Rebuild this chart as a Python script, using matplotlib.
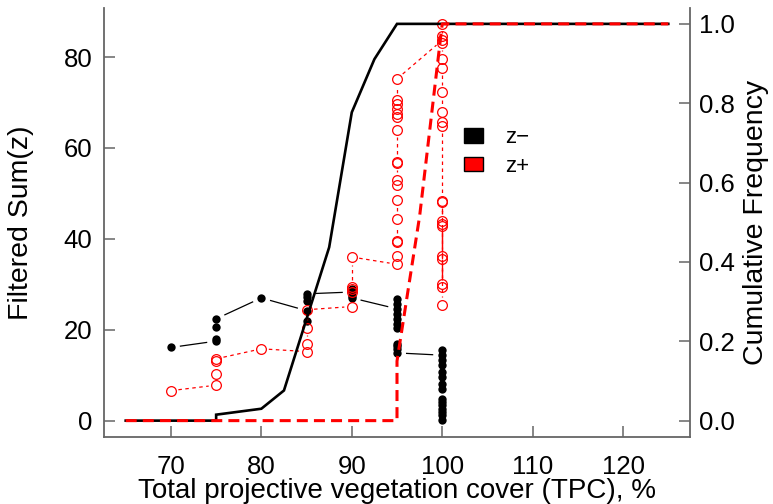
import matplotlib
matplotlib.use('Agg')
import matplotlib.pyplot as plt
import numpy as np
from matplotlib.patches import Patch
from matplotlib.collections import LineCollection

plt.rcParams['font.family'] = ['Liberation Sans', 'DejaVu Sans']

# ---------------- data ----------------
zminus_x = [70,
            75, 75, 75, 75,
            80,
            85, 85, 85, 85, 85,
            90, 90, 90, 90,
            95, 95, 95, 95, 95, 95, 95, 95, 95, 95, 95,
            100, 100, 100, 100, 100, 100, 100, 100, 100, 100, 100, 100, 100, 100, 100]
zminus_y = [16.1,
            17.5, 18.0, 20.6, 22.4,
            27.0,
            24.2, 22.0, 26.4, 27.2, 27.9,
            28.3, 29.0, 27.5, 27.0,
            24.6, 25.7, 26.8, 23.5, 22.4, 21.3, 20.4, 16.9, 16.4, 15.8, 14.9,
            14.4, 15.5, 13.3, 12.2, 10.7, 9.6, 8.1, 7.0, 4.8, 4.1, 3.4, 2.6, 1.9, 1.2, 0.1]

zplus_x = [70,
           75, 75, 75, 75,
           80,
           85, 85, 85, 85,
           90, 90, 90, 90, 90,
           95, 95, 95, 95, 95, 95, 95, 95, 95, 95, 95, 95, 95, 95, 95, 95, 95,
           100, 100, 100, 100, 100, 100, 100, 100, 100, 100,
           100, 100, 100, 100, 100, 100, 100, 100, 100, 100]
zplus_y = [6.6,
           7.8, 10.3, 13.1, 13.6,
           15.8,
           15.2, 16.9, 20.4, 24.4,
           25.1, 28.3, 28.9, 29.4, 36.0,
           34.4, 36.3, 39.3, 39.6, 44.4, 48.6, 51.9, 53.0, 56.7, 57.0, 64.0, 66.7, 67.5, 68.6, 69.7, 70.5, 75.2,
           83.7, 87.3, 84.7, 83.1, 79.6, 77.6, 72.2, 67.8, 65.6, 64.9,
           48.4, 44.0, 36.3, 30.0, 48.1, 43.3, 35.5, 29.3, 42.9, 25.5]

cum_minus_x = [65, 75, 75, 80, 82.5, 87.5, 90, 92.5, 95, 125]
cum_minus_y = [0.0, 0.0, 0.015, 0.03, 0.076, 0.437, 0.777, 0.911, 1.0, 1.0]
cum_plus_x = [65, 95, 95, 97.5, 100, 125]
cum_plus_y = [0.0, 0.0, 0.15, 0.515, 1.0, 1.0]

left_ticks = [0, 20, 40, 60, 80]
right_ticks = [0.0, 0.2, 0.4, 0.6, 0.8, 1.0]
x_ticks = [70, 80, 90, 100, 110, 120]

# ---------------- figure ----------------
fig = plt.figure(figsize=(7.73, 5.04), dpi=100)
ax_h = 428.5
ax = fig.add_axes([104/773, 1-436.5/504, 586/773, ax_h/504])
ax.set_xlim(62.6, 127.4)
ymax = max(zplus_y)
pad = 0.04 * ymax
ax.set_ylim(-pad, ymax + pad)
ax2 = ax.twinx()
ax2.set_ylim(-0.04, 1.04)

spc = '#666666'
for a in (ax, ax2):
    for s in a.spines.values():
        s.set_color(spc)
        s.set_linewidth(1.3)
    a.spines['top'].set_visible(False)
ax.spines['right'].set_visible(False)
ax2.spines['left'].set_visible(False)
ax2.spines['bottom'].set_visible(False)

ax.set_xticks(x_ticks)
ax.set_yticks(left_ticks)
ax2.set_yticks(right_ticks)
ax2.set_yticklabels([f'{v:.1f}' for v in right_ticks])
ax.tick_params(axis='both', direction='in', length=8, width=1.1, color=spc, labelsize=18.5)
ax.tick_params(axis='y', pad=8.5)
ax.tick_params(axis='x', pad=13)
ax2.tick_params(axis='y', direction='in', length=8, width=1.1, color=spc, labelsize=18.5, pad=6.5)


def gapped(a, xs, ys, gap):
    pts = a.transData.transform(np.column_stack([xs, ys]))
    inv = a.transData.inverted()
    segs = []
    for p0, p1 in zip(pts[:-1], pts[1:]):
        d = p1 - p0
        L = np.hypot(d[0], d[1])
        if L > 2 * gap:
            u = d / L
            segs.append(inv.transform(np.array([p0 + u * gap, p1 - u * gap])))
    return segs

# z- series (type "b")
ax.add_collection(LineCollection(gapped(ax, zminus_x, zminus_y, 9), colors='black', linewidths=0.9))
ax.plot(zminus_x, zminus_y, 'o', color='black', ms=6.0, mew=0)
# z+ series (type "b")
ax.add_collection(LineCollection(gapped(ax, zplus_x, zplus_y, 7.5), colors='red', linewidths=0.9,
                                 linestyles=[(0, (2.8, 2.8))]))
ax.plot(zplus_x, zplus_y, 'o', mfc='none', mec='red', ms=7.0, mew=0.9)

# cumulative curves
ax2.plot(cum_minus_x, cum_minus_y, color='black', lw=1.9, solid_joinstyle='miter')
ax2.plot(cum_plus_x, cum_plus_y, color='red', lw=2.2, linestyle=(0, (3.6, 2.0)))

ax.set_xlabel('Total projective vegetation cover (TPC), %', fontsize=20)
ax.set_ylabel('Filtered Sum(z)', fontsize=20.5)
ax2.set_ylabel('Cumulative Frequency', fontsize=20.5)
ax.xaxis.label.set_verticalalignment('center')
ax.yaxis.label.set_verticalalignment('center')
ax2.yaxis.label.set_verticalalignment('center')
ax.xaxis.set_label_coords(0.5, (436.5 - 491.5) / ax_h)
ax.yaxis.set_label_coords((21 - 104) / 586, 0.5)
ax2.yaxis.set_label_coords((756 - 104) / 586, 0.5)

handles = [Patch(facecolor='black', edgecolor='black'), Patch(facecolor='red', edgecolor='black')]
ax.legend(handles, ['z\u2212', 'z+'], loc='upper left', bbox_to_anchor=(464/773, 1-127/504),
          bbox_transform=fig.transFigure, frameon=False, fontsize=16, handlelength=0.85,
          handleheight=0.65, handletextpad=1.0, labelspacing=0.35, borderpad=0, borderaxespad=0)

fig.savefig('out.png', dpi=100)
